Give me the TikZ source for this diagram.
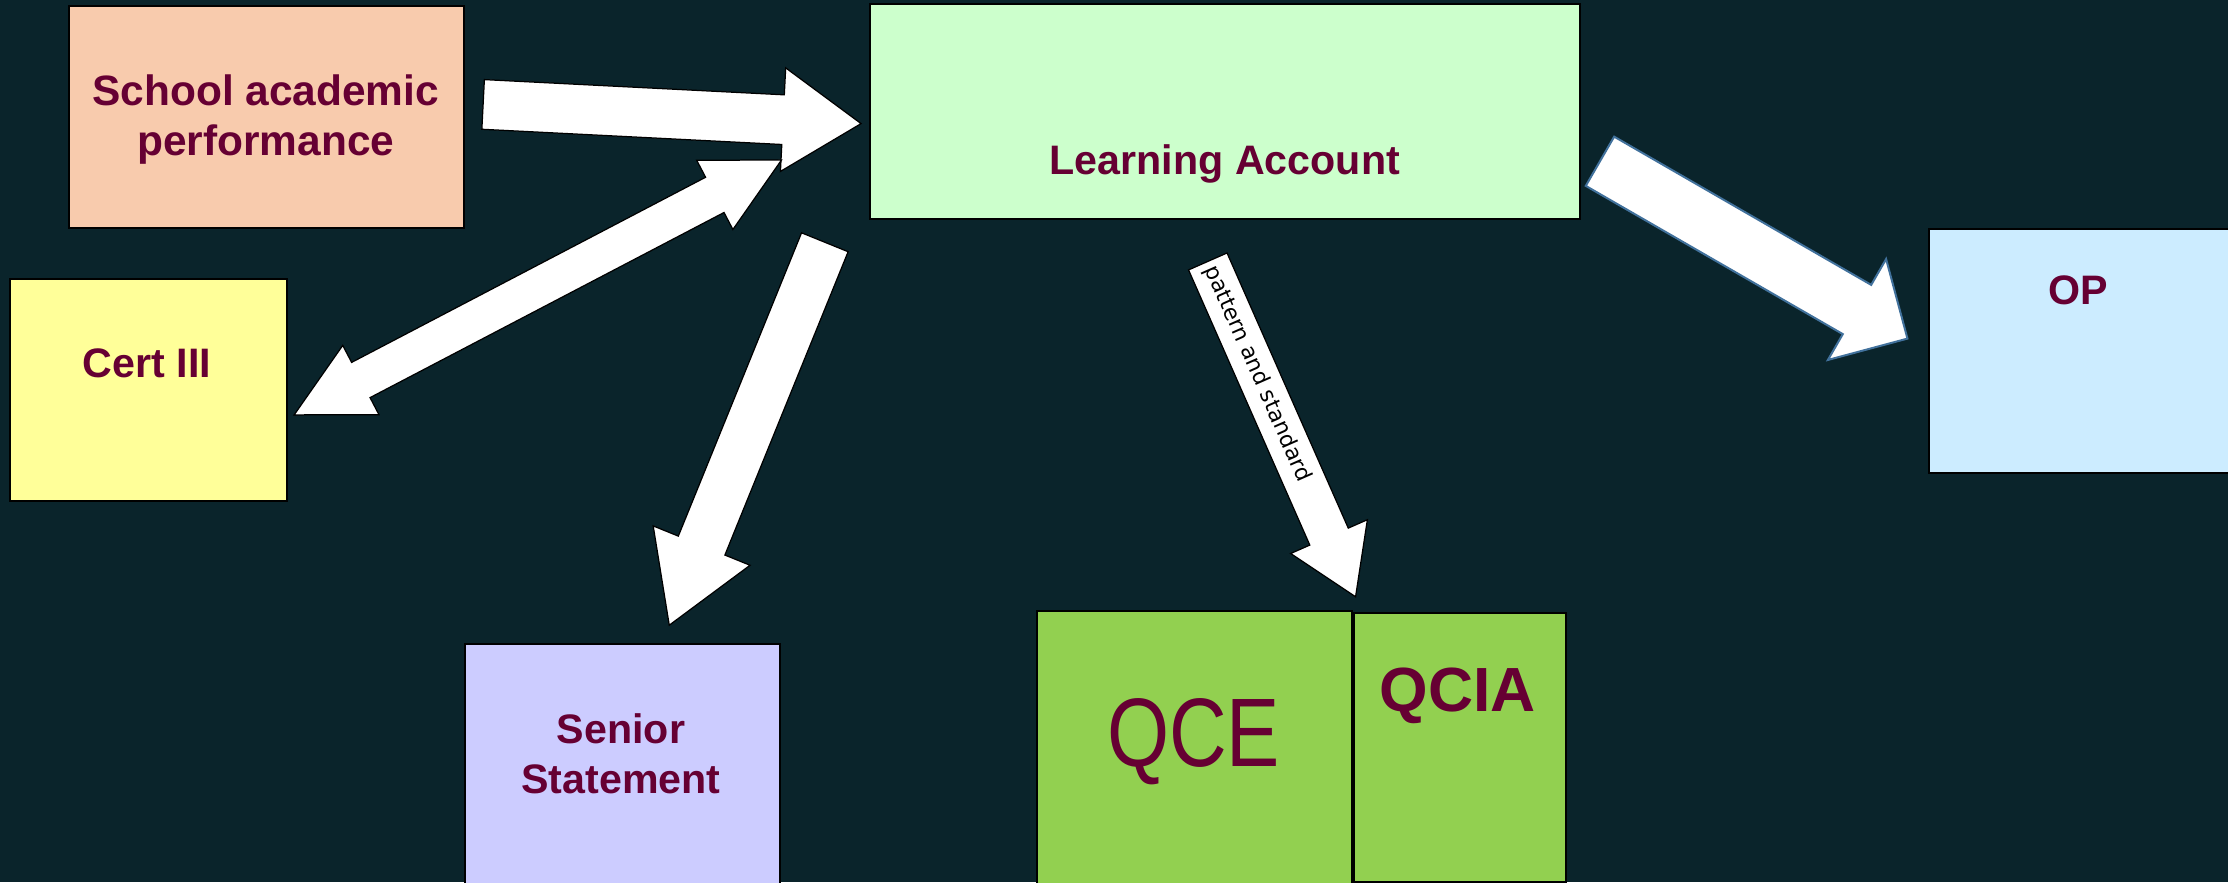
\documentclass[tikz,border=0pt]{standalone}
\usepackage{fontspec}
\setmainfont{Liberation Sans}
\newfontfamily\verdanafont{DejaVu Sans}
\usepackage{tikz}
\usetikzlibrary{calc,positioning}

\definecolor{fondo}{HTML}{0A242B}
\definecolor{vino}{HTML}{660033}
\definecolor{salmon}{HTML}{F8CBAD}
\definecolor{menta}{HTML}{CCFFCC}
\definecolor{limon}{HTML}{FFFF99}
\definecolor{celeste}{HTML}{CCECFF}
\definecolor{lila}{HTML}{CCCCFF}
\definecolor{verde}{HTML}{92D050}
\definecolor{opazul}{HTML}{41719C}

\newcommand{\pxlen}{0.5690551pt}
% block arrow: [style]{tail}{tip}{half shaft}{half head}{head length}
\newcommand{\blockarrow}[6][]{%
  \coordinate (hb) at ($(#3)!#6*\pxlen!(#2)$);
  \draw[flecha,#1] ($(#2)!#4*\pxlen!90:(#3)$) -- ($(hb)!#4*\pxlen!90:(#3)$)
    -- ($(hb)!#5*\pxlen!90:(#3)$) -- (#3) -- ($(hb)!#5*\pxlen!-90:(#3)$)
    -- ($(hb)!#4*\pxlen!-90:(#3)$) -- ($(#2)!#4*\pxlen!-90:(#3)$) -- cycle;
}
% same with a head at both ends
\newcommand{\dblarrow}[6][]{%
  \coordinate (ha) at ($(#2)!#6*\pxlen!(#3)$);
  \coordinate (hb) at ($(#3)!#6*\pxlen!(#2)$);
  \draw[flecha,#1] (#2) -- ($(ha)!#5*\pxlen!90:(#3)$) -- ($(ha)!#4*\pxlen!90:(#3)$)
    -- ($(hb)!#4*\pxlen!90:(#3)$) -- ($(hb)!#5*\pxlen!90:(#3)$) -- (#3)
    -- ($(hb)!#5*\pxlen!-90:(#3)$) -- ($(hb)!#4*\pxlen!-90:(#3)$)
    -- ($(ha)!#4*\pxlen!-90:(#3)$) -- ($(ha)!#5*\pxlen!-90:(#3)$) -- cycle;
}

\begin{document}
\begin{tikzpicture}[x=0.02cm,y=-0.02cm,
    caja/.style={draw=black,line width=0.8pt,anchor=north west,inner sep=0pt},
    rotulo/.style={text=vino,font=\fontsize{16.5}{20}\selectfont\bfseries,align=center,inner sep=0pt},
    flecha/.style={fill=white,draw=black,line width=0.5pt}]
  \useasboundingbox (0,0) rectangle (1568,621);
  \fill[fondo] (0,0) rectangle (1568,621);
  \clip (0,0) rectangle (1568,621);

  % boxes
  \node[caja,fill=salmon,minimum width=278*\pxlen,minimum height=156*\pxlen] (sap) at (47.7,3.5) {};
  \node[caja,fill=menta,minimum width=500*\pxlen,minimum height=151*\pxlen] (la) at (611.5,2.2) {};
  \node[caja,fill=limon,minimum width=195*\pxlen,minimum height=156.5*\pxlen] (cert) at (6,195.4) {};
  \node[caja,fill=celeste,minimum width=215*\pxlen,minimum height=172*\pxlen] (op) at (1357,160.2) {};
  \node[caja,fill=lila,minimum width=222*\pxlen,minimum height=200*\pxlen] (ss) at (326.5,452.6) {};
  \node[caja,fill=verde,minimum width=222*\pxlen,minimum height=220*\pxlen] (qce) at (729,429) {};
  \node[caja,fill=verde,minimum width=149*\pxlen,minimum height=189*\pxlen] (qcia) at ($(qce.north east)+(0,2)$) {};

  % texts
  \node[rotulo,font=\fontsize{17}{20}\selectfont\bfseries] (sap txt) at (187,84) {School academic\\performance};
  \node[rotulo,anchor=base] (la txt) at (862,123) {Learning Account};
  \node[rotulo,anchor=base] (cert txt) at (103.5,265.8) {Cert III};
  \node[rotulo,anchor=base] (op txt) at (1462.5,214.6) {OP};
  \node[rotulo] (ss txt) at (437,530.5) {Senior\\Statement};
  \node[rotulo,anchor=base,font=\fontsize{39}{39}\selectfont] (qce txt) at (840,539.5) {\scalebox{0.82}[1]{QCE}};
  \node[rotulo,anchor=base,font=\fontsize{25}{30}\selectfont\bfseries] (qcia txt) at (1026,501) {QCIA};

  % arrow ends
  \coordinate (sap tail) at (340,73.5);
  \coordinate (sap tip) at (606,87);
  \coordinate (cert tip) at (207,292);
  \coordinate (la tip) at (550,112.6);
  \coordinate (ss tail) at (580.5,170.5);
  \coordinate (ss tip) at (471,440);
  \coordinate (pt tail) at (850,184);
  \coordinate (pt tip) at (954,420);
  \coordinate (op tail) at (1126,113.5);
  \coordinate (op tip) at (1342.4,238.3);

  % arrows
  \blockarrow{sap tail}{sap tip}{17.5}{36.5}{55}
  \dblarrow{cert tip}{la tip}{14}{27.5}{53}
  \blockarrow{ss tail}{ss tip}{17.7}{36.8}{60.5}
  \blockarrow{pt tail}{pt tip}{14.8}{29.5}{46.3}
  \path (pt tail) -- (pt tip)
    node[pos=0.335,sloped,font=\verdanafont\fontsize{8.8}{10}\selectfont,text=black] {pattern and standard};
  \blockarrow[draw=opazul,line width=0.8pt]{op tail}{op tip}{20}{41}{41}
\end{tikzpicture}
\end{document}
